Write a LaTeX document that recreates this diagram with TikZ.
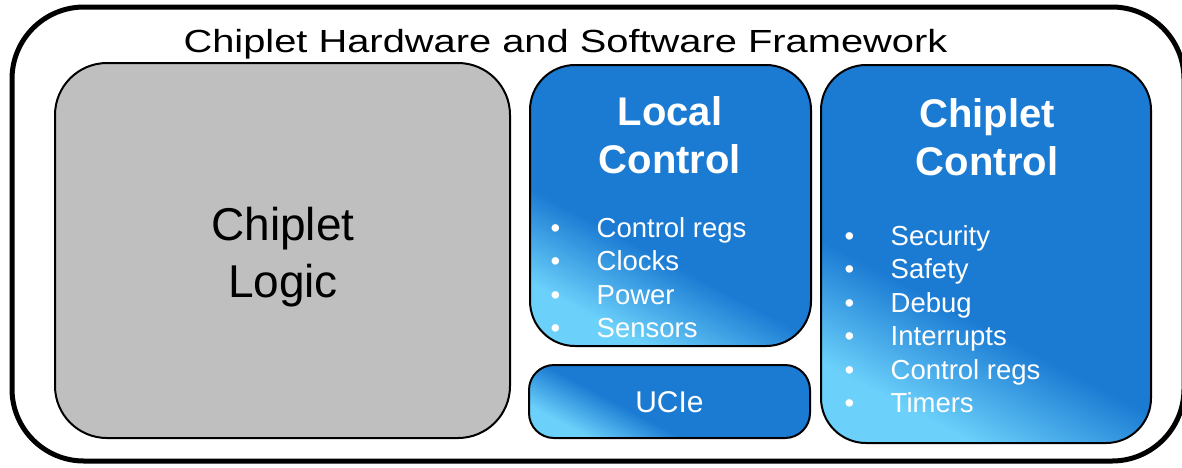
\documentclass[tikz,border=0pt]{standalone}
\usepackage{fontspec}
\setmainfont{Liberation Sans}

\definecolor{blueC}{HTML}{1B7BD3}
\definecolor{cyanC}{HTML}{6BD0FA}
\definecolor{grayC}{HTML}{BFBFBF}

% light cyan in the lower left corner fading into the panel blue
\pgfdeclarehorizontalshading{bluegrad}{100bp}{%
  color(0bp)=(cyanC); color(26bp)=(cyanC); color(41bp)=(blueC); color(100bp)=(blueC)}

\newcommand\itm[1]{\makebox[46pt][l]{\textbullet}#1}

\tikzset{
  frame/.style={draw, line width=5pt, rounded corners=72pt, rectangle, inner sep=0pt},
  panel/.style={draw, line width=2pt, rectangle, inner sep=0pt},
  logicbox/.style={panel, fill=grayC, rounded corners=52pt},
  ctrlbox/.style={panel, shade, shading=bluegrad, shading angle=62, rounded corners=45pt},
  uciebox/.style={panel, shade, shading=bluegrad, shading angle=62, rounded corners=25pt},
  titletext/.style={font=\fontsize{32}{38}\selectfont, anchor=base, inner sep=0pt},
  logictext/.style={font=\fontsize{46}{57}\selectfont, anchor=base, inner sep=0pt},
  headtext/.style={font=\fontsize{40}{48}\selectfont\bfseries, text=white, anchor=base, inner sep=0pt},
  itemtext/.style={font=\fontsize{27.5}{33.5}\selectfont, text=white, anchor=base west, inner sep=0pt},
  uctext/.style={font=\fontsize{30}{36}\selectfont, text=white, anchor=base, inner sep=0pt},
}

\begin{document}
\begin{tikzpicture}[x=1pt,y=-1pt]
  \useasboundingbox (0,0) rectangle (1182,467);
  \clip (0,0) rectangle (1182,467);

  % outer framework outline
  \node[frame, minimum width=1172pt, minimum height=454pt] (framework) at (598,234) {};
  \node[titletext] (title) at (565.5,52)
    {\scalebox{1.245}[1]{Chiplet Hardware and Software Framework}};

  % chiplet logic block
  \node[logicbox, minimum width=455pt, minimum height=375pt] (logic) at (282.5,250.5) {};
  \node[logictext] (logicA) at (283,240) {Chiplet};
  \node[logictext] (logicB) at (283,297) {Logic};

  % local control block
  \node[ctrlbox, minimum width=281pt, minimum height=281pt] (local) at (670.5,205.5) {};
  \node[headtext] (localA) at (670,125) {Local};
  \node[headtext] (localB) at (670,173) {Control};
  \foreach \lbl [count=\i] in {Control regs, Clocks, Power, Sensors}
    \node[itemtext] (lc\i) at (550.5,{237+33.5*(\i-1)}) {\itm{\lbl}};

  % UCIe block
  \node[uciebox, minimum width=281pt, minimum height=73pt] (ucie) at (669.5,401.5) {};
  \node[uctext] (ucieT) at (669.5,412) {UCIe};

  % chiplet control block
  \node[ctrlbox, minimum width=330pt, minimum height=378pt] (cctrl) at (986,254) {};
  \node[headtext] (cctrlA) at (987,127) {Chiplet};
  \node[headtext] (cctrlB) at (987,175) {Control};
  \foreach \lbl [count=\i] in {Security, Safety, Debug, Interrupts, Control regs, Timers}
    \node[itemtext] (cc\i) at (844.5,{245+33.5*(\i-1)}) {\itm{\lbl}};
\end{tikzpicture}
\end{document}
